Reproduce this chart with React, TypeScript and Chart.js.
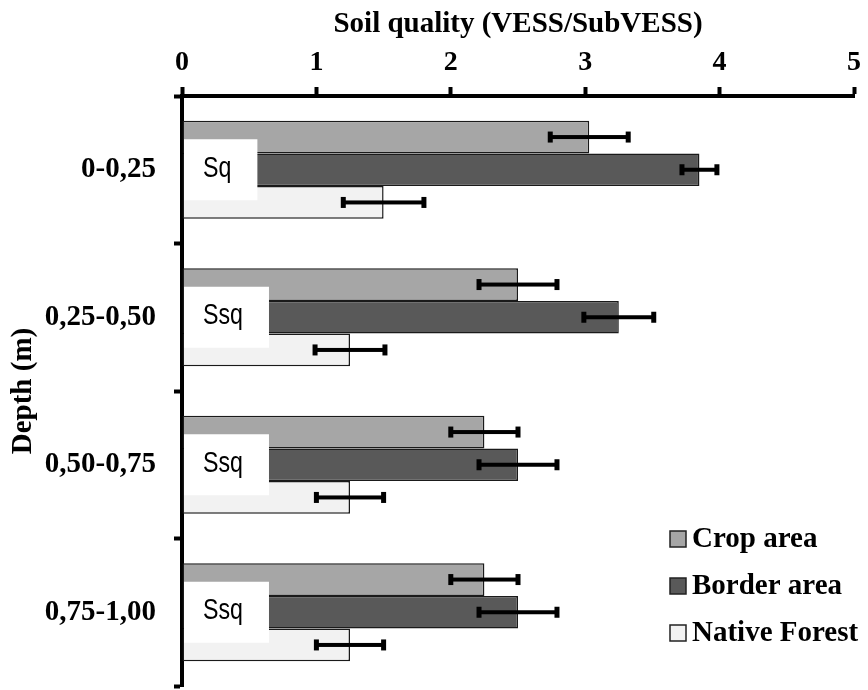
import React, { useEffect, useRef } from "react";
import { Chart, registerables } from "chart.js";

Chart.register(...registerables);

const depths = ["0-0,25", "0,25-0,50", "0,50-0,75", "0,75-1,00"];
const qualityLabels = ["Sq", "Ssq", "Ssq", "Ssq"];
const seriesNames = ["Crop area", "Border area", "Native Forest"];
const cropValues = [3.03, 2.5, 2.25, 2.25];
const cropErrors = [0.29, 0.29, 0.25, 0.25];
const borderValues = [3.85, 3.25, 2.5, 2.5];
const borderErrors = [0.13, 0.26, 0.29, 0.29];
const forestValues = [1.5, 1.25, 1.25, 1.25];
const forestErrors = [0.3, 0.26, 0.25, 0.25];
const xTicks = [0, 1, 2, 3, 4, 5];

const errorSets = [cropErrors, borderErrors, forestErrors];
const colors = ["#a6a6a6", "#595959", "#f2f2f2"];

const SERIF = '"Liberation Serif", "Times New Roman", serif';
const SANS = '"Liberation Sans", Arial, sans-serif';

const overlayPlugin = {
  id: "overlay",
  afterDatasetsDraw(chart: any) {
    const ctx = chart.ctx;
    const xs = chart.scales.x;
    const ys = chart.scales.y;
    ctx.save();
    ctx.fillStyle = "#000";
    chart.data.datasets.forEach((ds: any, i: number) => {
      const meta = chart.getDatasetMeta(i);
      const errs = errorSets[i];
      meta.data.forEach((bar: any, j: number) => {
        const v = ds.data[j];
        const e = errs[j];
        const x1 = xs.getPixelForValue(v - e);
        const x2 = xs.getPixelForValue(v + e);
        const y = bar.y;
        ctx.fillRect(x1, y - 2, x2 - x1, 4);
        ctx.fillRect(x1 - 2.5, y - 5.5, 5, 11);
        ctx.fillRect(x2 - 2.5, y - 5.5, 5, 11);
      });
    });
    // quality label boxes
    const sx = 0.8;
    ctx.font = `29px ${SANS}`;
    ctx.textBaseline = "middle";
    ctx.textAlign = "left";
    qualityLabels.forEach((lab, j) => {
      const cy = ys.getPixelForValue(j);
      const tw = ctx.measureText(lab).width * sx;
      const left = chart.chartArea.left + 2;
      const w = tw + 45;
      ctx.fillStyle = "#fff";
      ctx.fillRect(left, cy - 30.5, w, 61);
      ctx.fillStyle = "#000";
      ctx.save();
      ctx.translate(left + 19, cy - 1);
      ctx.scale(sx, 1);
      ctx.fillText(lab, 0, 0);
      ctx.restore();
    });
    ctx.restore();
  },
  afterDraw(chart: any) {
    const ctx = chart.ctx;
    const { right, bottom } = chart.chartArea;
    ctx.save();
    ctx.font = `bold 29px ${SERIF}`;
    ctx.textBaseline = "middle";
    ctx.textAlign = "left";
    seriesNames.forEach((name, i) => {
      const cy = bottom - 147 + i * 47;
      const bx = right - 184;
      ctx.fillStyle = colors[i];
      ctx.fillRect(bx, cy - 8, 16, 16);
      ctx.lineWidth = 1.5;
      ctx.strokeStyle = "#222";
      ctx.strokeRect(bx, cy - 8, 16, 16);
      ctx.fillStyle = "#000";
      ctx.fillText(name, bx + 22, cy + 1);
    });
    ctx.restore();
  },
};

export default function App() {
  const ref = useRef<HTMLCanvasElement>(null);
  useEffect(() => {
    if (!ref.current) return;
    const values = [cropValues, borderValues, forestValues];
    const chart = new Chart(ref.current, {
      type: "bar",
      data: {
        labels: depths,
        datasets: seriesNames.map((n, i) => ({
          label: n,
          data: values[i],
          backgroundColor: colors[i],
          borderColor: "#1a1a1a",
          borderWidth: 1.5,
          borderSkipped: false,
          categoryPercentage: 0.665,
          barPercentage: 1,
        })),
      },
      options: {
        indexAxis: "y",
        responsive: false,
        animation: false,
        devicePixelRatio: 1,
        layout: { padding: { left: 0, top: 0, right: 11, bottom: 4 } },
        plugins: { legend: { display: false }, tooltip: { enabled: false } },
        scales: {
          x: {
            type: "linear",
            position: "top",
            min: 0,
            max: 5,
            z: 1,
            afterBuildTicks: (s: any) => {
              s.ticks = xTicks.map((v) => ({ value: v }));
            },
            afterFit: (s: any) => {
              s.height = 96;
            },
            ticks: {
              stepSize: 1,
              color: "#000",
              padding: 7,
              font: { family: SERIF, size: 28, weight: "bold" },
            },
            grid: {
              drawOnChartArea: false,
              drawTicks: true,
              tickLength: 9,
              tickWidth: 4,
              tickColor: "#000",
            },
            border: { display: true, color: "#000", width: 4 },
            title: {
              display: true,
              text: "Soil quality (VESS/SubVESS)",
              color: "#000",
              padding: { top: 7, bottom: 0 },
              font: { family: SERIF, size: 29, weight: "bold" },
            },
          },
          y: {
            type: "category",
            position: "left",
            offset: true,
            z: 1,
            afterFit: (s: any) => {
              s.width = 182;
              s.paddingTop = 0;
              s.paddingBottom = 0;
            },
            ticks: {
              color: "#000",
              padding: 18,
              font: { family: SERIF, size: 29, weight: "bold" },
            },
            grid: {
              offset: true,
              drawOnChartArea: false,
              drawTicks: true,
              tickLength: 8,
              tickWidth: 4,
              tickColor: "#000",
            },
            border: { display: true, color: "#000", width: 4 },
            title: {
              display: true,
              text: "Depth (m)",
              color: "#000",
              padding: { top: 6, bottom: 0 },
              font: { family: SERIF, size: 29, weight: "bold" },
            },
          },
        },
      },
      plugins: [overlayPlugin],
    } as any);
    return () => chart.destroy();
  }, []);
  return (
    <div style={{ position: "fixed", left: 0, top: 0, width: 868, height: 690, background: "#fff" }}>
      <canvas ref={ref} width={868} height={690} style={{ display: "block" }} />
    </div>
  );
}
